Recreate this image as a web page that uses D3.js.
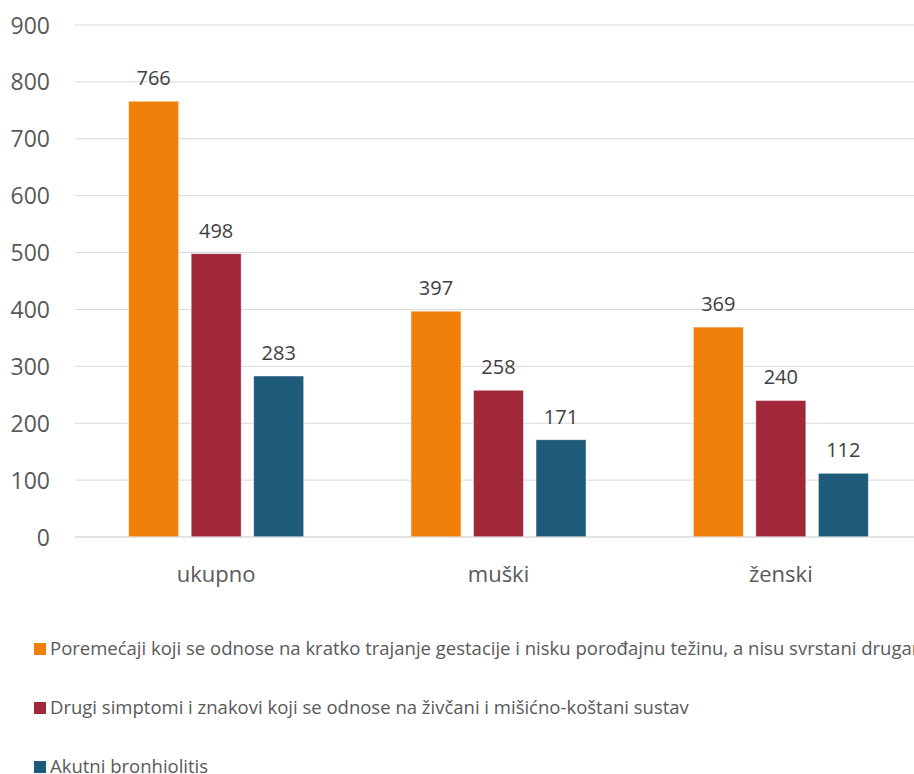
<!DOCTYPE html>
<html>
<head>
<meta charset="utf-8">
<script src="https://cdn.jsdelivr.net/npm/d3@7"></script>
<style>
  html, body { margin: 0; padding: 0; background: #fff; overflow: hidden; }
  svg { display: block; font-family: "Open Sans", "Noto Sans", sans-serif; }
</style>
</head>
<body>
<svg id="chart" width="914" height="774"></svg>
<script>
// Categories (sex breakdown) and the three diagnosis series
const categories = ["ukupno", "muški", "ženski"];
const seriesNames = [
  "Poremećaji koji se odnose na kratko trajanje gestacije i nisku porođajnu težinu, a nisu svrstani drugamo",
  "Drugi simptomi i znakovi koji se odnose na živčani i mišićno-koštani sustav",
  "Akutni bronhiolitis"
];
const seriesA = [766, 397, 369];
const seriesB = [498, 258, 240];
const seriesC = [283, 171, 112];
const yTicks = [0, 100, 200, 300, 400, 500, 600, 700, 800, 900];
const colors = ["#F0800A", "#A02838", "#1E5A7A"];

const seriesValues = [seriesA, seriesB, seriesC];
const svg = d3.select("#chart");

const plotLeft = 75, plotRight = 922, plotTop = 25, plotBottom = 537;

const x0 = d3.scaleBand().domain(categories).range([plotLeft, plotRight]);
const bw = x0.bandwidth();
const x1 = d3.scaleBand().domain(d3.range(3)).range([bw * 0.19, bw * 0.81]).paddingInner(0.2);
const y = d3.scaleLinear().domain([0, 900]).range([plotBottom, plotTop]);

// Horizontal gridlines
svg.append("g").selectAll("line").data(yTicks).join("line")
  .attr("x1", plotLeft).attr("x2", 914)
  .attr("y1", d => y(d)).attr("y2", d => y(d))
  .attr("stroke", "#D9D9D9").attr("stroke-width", 1);

// Y axis labels
const yAxis = d3.axisLeft(y).tickValues(yTicks).tickSize(0).tickPadding(0);
const yg = svg.append("g").attr("transform", "translate(50,0)").call(yAxis);
yg.select(".domain").remove();
yg.selectAll("text").attr("fill", "#595959").style("font-size", "23px")
  .style("font-family", "'Open Sans', sans-serif").attr("dy", "0.35em");

// Bars
const groups = svg.append("g").selectAll("g").data(categories).join("g")
  .attr("transform", d => `translate(${x0(d)},0)`);

groups.selectAll("rect").data((c, ci) => seriesValues.map((s, si) => ({ si, v: s[ci] })))
  .join("rect")
  .attr("x", d => x1(d.si))
  .attr("width", x1.bandwidth())
  .attr("y", d => y(d.v))
  .attr("height", d => y(0) - y(d.v))
  .attr("fill", d => colors[d.si])
  .attr("stroke", "#ffffff").attr("stroke-opacity", 0.6).attr("stroke-width", 0.8);

// Value labels
groups.selectAll("text").data((c, ci) => seriesValues.map((s, si) => ({ si, v: s[ci] })))
  .join("text")
  .attr("x", d => x1(d.si) + x1.bandwidth() / 2)
  .attr("y", d => y(d.v) - 16)
  .attr("text-anchor", "middle")
  .attr("fill", "#404040")
  .style("font-size", "20px")
  .text(d => d.v);

// Baseline
svg.append("line").attr("x1", plotLeft).attr("x2", 914)
  .attr("y1", y(0)).attr("y2", y(0)).attr("stroke", "#D9D9D9").attr("stroke-width", 1.2);

// Category labels
const xAxis = d3.axisBottom(x0).tickSize(0).tickPadding(0);
const xg = svg.append("g").attr("transform", `translate(0,${plotBottom})`).call(xAxis);
xg.select(".domain").remove();
xg.selectAll("text").attr("fill", "#595959").style("font-size", "22px")
  .style("font-family", "'Open Sans', sans-serif").attr("dy", "0").attr("y", 45);

// Legend
const legend = svg.append("g").selectAll("g").data(seriesNames).join("g")
  .attr("transform", (d, i) => `translate(34,${649 + i * 59})`);
legend.append("rect").attr("x", 0).attr("y", -6).attr("width", 12).attr("height", 12)
  .attr("fill", (d, i) => colors[i]);
legend.append("text").attr("x", 16).attr("y", 0).attr("dy", "0.35em")
  .attr("fill", "#595959").style("font-size", "18.5px").text(d => d);
</script>
</body>
</html>
